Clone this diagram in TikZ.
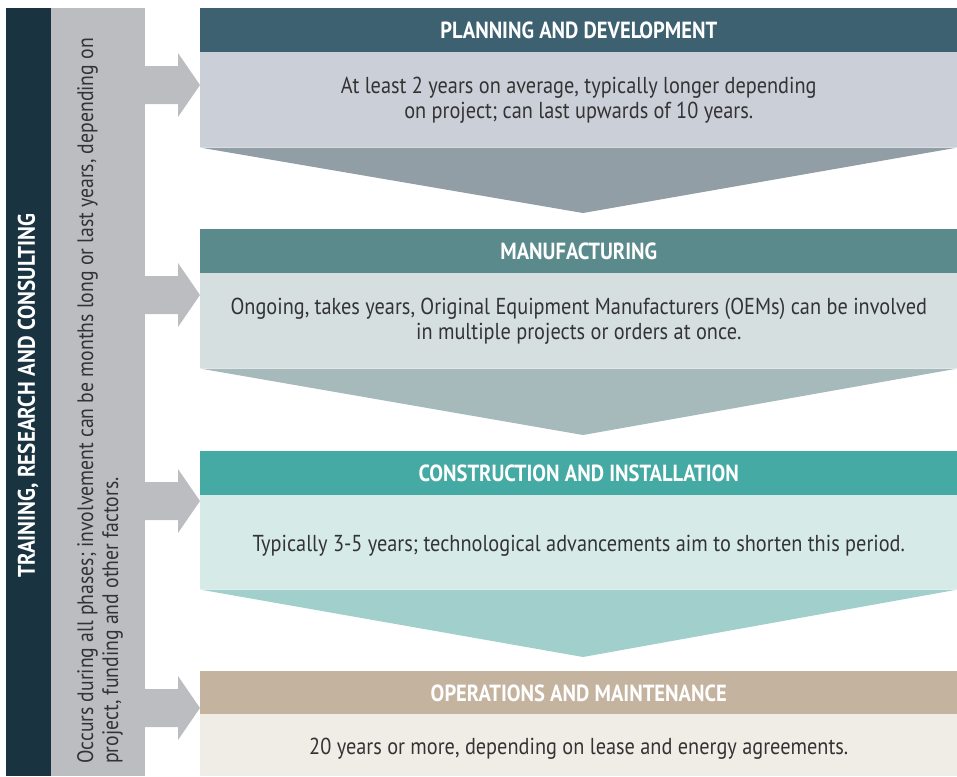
\documentclass[tikz,border=0pt]{standalone}
\usepackage{fontspec}
\setmainfont{PT Sans}[FakeStretch=0.88]
\usetikzlibrary{positioning}

\definecolor{sidedark}{HTML}{1A3340}
\definecolor{sidegray}{HTML}{BCBDC1}
\definecolor{planhead}{HTML}{3D6171}
\definecolor{planbody}{HTML}{CBCFD7}
\definecolor{planarrow}{HTML}{929EA6}
\definecolor{manuhead}{HTML}{5B8A8C}
\definecolor{manubody}{HTML}{D5DFE0}
\definecolor{manuarrow}{HTML}{A6B9BB}
\definecolor{consthead}{HTML}{45AAA3}
\definecolor{constbody}{HTML}{D6EAE8}
\definecolor{constarrow}{HTML}{A1CFCB}
\definecolor{opshead}{HTML}{C4B39F}
\definecolor{opsbody}{HTML}{F0EDE7}
\definecolor{bodytext}{HTML}{333333}

\tikzset{
    headbox/.style={anchor=north west, minimum width=567.75pt, minimum height=33pt,
        inner sep=0pt, text=white, font=\bfseries\fontsize{17.5}{20}\selectfont},
    bodybox/.style={anchor=north west, minimum width=567.75pt, inner sep=0pt,
        text=bodytext, align=center, font=\fontsize{17.3}{18.75}\selectfont,
        execute at begin node=\rule{0pt}{17pt}},
}

\begin{document}
\begin{tikzpicture}[x=0.75pt,y=-0.75pt]
        \useasboundingbox (0,0) rectangle (957,776);

        % draw side bars
        \fill[sidedark] (6,8) rectangle (51,776);
        \fill[sidegray] (51,8) rectangle (145,776);
        \node (side) [rotate=90, text=white, font=\bfseries\fontsize{18}{20}\selectfont]
            at (28,396) {TRAINING, RESEARCH AND CONSULTING};
        \node (sidenote) [rotate=90, anchor=west, align=left, inner sep=0pt, text=bodytext,
            font=\fontsize{16.8}{18.75}\selectfont] at (100,764)
            {Occurs during all phases; involvement can be months long or last years, depending on\\
             project, funding and other factors.};

        % draw side arrows
        \foreach \y in {85,295,501,708}
            \fill[sidegray] (145,\y-19) -- (178,\y-19) -- (178,\y-32) -- (200,\y)
                -- (178,\y+32) -- (178,\y+19) -- (145,\y+19) -- cycle;

        % draw phases
        \node (plan) [headbox, fill=planhead] at (200,8) {PLANNING AND DEVELOPMENT};
        \node (planinfo) [bodybox, fill=planbody, minimum height=71.25pt] at (200,52)
            {At least 2 years on average, typically longer depending\\ on project; can last upwards of 10 years.};
        \fill[planarrow] (planinfo.south west) -- (planinfo.south east) -- (583,213) -- cycle;

        \node (manu) [headbox, fill=manuhead] at (200,229) {MANUFACTURING};
        \node (manuinfo) [bodybox, fill=manubody, minimum height=71.25pt] at (200,273)
            {Ongoing, takes years, Original Equipment Manufacturers (OEMs) can be involved\\ in multiple projects or orders at once.};
        \fill[manuarrow] (manuinfo.south west) -- (manuinfo.south east) -- (583,435) -- cycle;

        \node (const) [headbox, fill=consthead] at (200,451) {CONSTRUCTION AND INSTALLATION};
        \node (constinfo) [bodybox, fill=constbody, minimum height=70.5pt] at (200,495)
            {Typically 3-5 years; technological advancements aim to shorten this period.};
        \fill[constarrow] (constinfo.south west) -- (constinfo.south east) -- (583,657) -- cycle;

        \node (ops) [headbox, fill=opshead] at (200,671) {OPERATIONS AND MAINTENANCE};
        \node (opsinfo) [bodybox, fill=opsbody, minimum height=46.5pt] at (200,714)
            {20 years or more, depending on lease and energy agreements.};
\end{tikzpicture}
\end{document}
